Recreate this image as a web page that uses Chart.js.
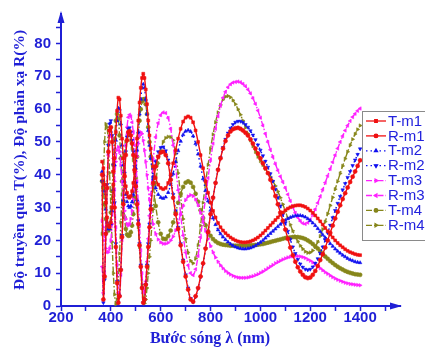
<!DOCTYPE html>
<html>
<head>
<meta charset="utf-8">
<script src="https://cdn.jsdelivr.net/npm/chart.js@4/dist/chart.umd.min.js"></script>
<style>
  html, body { margin: 0; padding: 0; background: #fff; }
</style>
</head>
<body>
<canvas id="myChart" width="425" height="349"></canvas>
<script>
// wavelength grid (nm): 5 nm steps in the short-wave region, 10 nm after
const wavelengths = [
    365, 370, 375, 380, 385, 390, 395, 400, 405, 410,
    415, 420, 425, 430, 435, 440, 445, 450, 455, 460,
    465, 470, 475, 480, 485, 490, 495, 500, 505, 510,
    515, 520, 525, 530, 535, 540, 545, 550, 555, 560,
    570, 580, 590, 600, 610, 620, 630, 640, 650, 660,
    670, 680, 690, 700, 710, 720, 730, 740, 750, 760,
    770, 780, 790, 800, 810, 820, 830, 840, 850, 860,
    870, 880, 890, 900, 910, 920, 930, 940, 950, 960,
    970, 980, 990, 1000, 1010, 1020, 1030, 1040, 1050, 1060,
    1070, 1080, 1090, 1100, 1110, 1120, 1130, 1140, 1150, 1160,
    1170, 1180, 1190, 1200, 1210, 1220, 1230, 1240, 1250, 1260,
    1270, 1280, 1290, 1300, 1310, 1320, 1330, 1340, 1350, 1360,
    1370, 1380, 1390, 1400
];

const tM1 = [
    44, 42, 37, 31.5, 27, 24.5, 24, 25.5, 30, 37,
    45, 53, 59.5, 63.5, 63, 58, 51, 45, 40, 36.5,
    34.5, 33.3, 33, 33.5, 35, 37.5, 41, 45.5, 51, 56.5,
    62, 66.5, 69.5, 70.8, 69.5, 66, 61.5, 56.5, 52, 48,
    42.5, 39, 37, 36, 35.6, 36, 37.5, 40, 43.5, 47.5,
    51, 54, 56.2, 57.4, 57.8, 57.4, 56, 53.5, 50, 46,
    42, 38, 34.5, 31.5, 29, 27, 25.3, 24, 23, 22.2,
    21.5, 20.9, 20.4, 20, 19.7, 19.5, 19.4, 19.4, 19.5, 19.7,
    20, 20.4, 20.9, 21.5, 22.2, 23, 23.8, 24.6, 25.4, 26.2,
    27, 27.8, 28.5, 29.2, 29.7, 30.1, 30.4, 30.6, 30.7, 30.7,
    30.5, 30.2, 29.7, 29.1, 28.4, 27.6, 26.7, 25.8, 24.8, 23.8,
    22.8, 21.8, 20.9, 20, 19.2, 18.5, 17.9, 17.3, 16.8, 16.4,
    16.1, 15.8, 15.6, 15.5
];

const rM1 = [
    40, 2, 9, 22, 36, 47, 53.5, 54.5, 50, 41,
    30, 18, 7, 1, 3, 11, 21, 31, 39.5, 46,
    50.5, 53, 53.3, 52, 49.5, 46, 41.5, 36.5, 31, 25,
    18.5, 12, 5.5, 1, 2, 6.5, 12, 18, 24, 29.5,
    37.5, 42.5, 45.5, 46.8, 47, 46, 43.5, 38.5, 33, 28,
    23.5, 18.5, 13.5, 9, 5, 2, 1.3, 3, 5.5, 9,
    13, 17.5, 22.5, 28, 33, 37.5, 41.5, 45, 48, 50.3,
    52, 53.2, 53.9, 54.2, 54.3, 54, 53.5, 52.8, 52, 50.8,
    49.5, 48, 46.5, 45, 43.5, 42, 40.5, 38.5, 36, 33.5,
    31, 28.5, 26, 23.3, 20.5, 17.8, 15.5, 13.5, 11.8, 10.5,
    9.5, 8.8, 8.5, 8.7, 9.5, 10.7, 12.2, 14, 15.8, 17.8,
    20, 22.3, 24.5, 26.7, 28.7, 30.7, 32.6, 34.4, 36.1, 37.8,
    39.4, 41, 42.7, 44.4
];

const tM2 = [
    41, 40, 35, 29.5, 25.5, 23.5, 23.5, 25, 29, 35.5,
    43, 50.5, 56.5, 60.3, 60, 55.5, 49, 43, 38, 34,
    31.8, 30.5, 30, 30.4, 31.7, 34, 37.5, 42, 47.5, 53,
    58.5, 63, 66.5, 67.6, 66.5, 63, 58.5, 53.5, 49, 45,
    39.5, 36, 34, 33.1, 32.8, 33.2, 34.6, 37, 40.3, 44,
    47.3, 50.2, 52.2, 53.3, 53.6, 53.2, 51.8, 49.5, 46.3, 42.6,
    38.8, 35.2, 32, 29.2, 26.8, 24.8, 23.2, 22, 21, 20.2,
    19.5, 18.9, 18.4, 18, 17.7, 17.5, 17.4, 17.4, 17.5, 17.7,
    18, 18.4, 18.9, 19.4, 20, 20.7, 21.4, 22.1, 22.8, 23.5,
    24.2, 24.9, 25.5, 26.1, 26.6, 27, 27.3, 27.5, 27.6, 27.6,
    27.4, 27.1, 26.6, 26, 25.3, 24.5, 23.6, 22.7, 21.7, 20.8,
    19.9, 19, 18.2, 17.4, 16.7, 16.1, 15.5, 15, 14.5, 14.1,
    13.8, 13.5, 13.3, 13.2
];

const rM2 = [
    38, 1, 8, 22, 37, 49, 55.5, 56.5, 52, 43,
    31.5, 19, 7.5, 1, 3, 11, 21.5, 32, 40.5, 47,
    51.5, 54, 54.3, 53, 50.5, 47, 42.5, 37.5, 32, 26,
    19, 12.5, 5.5, 1, 2, 6.5, 12.5, 19, 25, 30.5,
    38.5, 44, 47, 48.3, 48.5, 47.3, 44.5, 39.5, 34, 29,
    24, 19, 14, 9.5, 5.5, 2.3, 1.2, 2.8, 5.3, 8.8,
    12.8, 17.5, 22.5, 28, 33, 37.5, 41.5, 45.2, 48.3, 50.8,
    52.7, 54.2, 55.3, 56, 56.3, 56.3, 55.9, 55.3, 54.5, 53.4,
    52.1, 50.7, 49.1, 47.5, 45.8, 44.1, 42.3, 40.3, 38, 35.6,
    33.1, 30.5, 27.9, 25.3, 22.8, 20.3, 18, 16, 14.2, 12.8,
    11.8, 11.2, 11, 11.2, 11.9, 13, 14.4, 16.1, 18, 20.1,
    22.3, 24.6, 26.9, 29.1, 31.3, 33.4, 35.4, 37.3, 39.2, 41,
    42.8, 44.5, 46.2, 47.9
];

const tM3 = [
    26, 24, 20, 17.5, 16.5, 16.4, 17.5, 20, 25, 31,
    38, 44, 47.5, 48.5, 47, 43, 38, 33, 29, 26.5,
    25, 24.5, 25, 26.5, 29, 32.5, 36.5, 41, 45.5, 49.5,
    52, 53, 52.5, 50.5, 47.5, 44, 40, 36, 32.5, 29.5,
    25, 22, 20.3, 19.4, 19, 19, 19.3, 20, 21.2, 23,
    25.3, 28, 30.5, 32.3, 33.4, 33.8, 33.5, 32.5, 30.8, 28.5,
    25.8, 23, 20.5, 18.3, 16.4, 14.8, 13.5, 12.4, 11.5, 10.7,
    10.1, 9.6, 9.2, 8.9, 8.7, 8.6, 8.6, 8.6, 8.7, 8.9,
    9.1, 9.4, 9.7, 10.1, 10.5, 11, 11.5, 12, 12.5, 13,
    13.4, 13.8, 14.2, 14.5, 14.8, 15, 15.1, 15.2, 15.2, 15.1,
    14.9, 14.6, 14.2, 13.8, 13.3, 12.7, 12.1, 11.5, 10.9, 10.3,
    9.8, 9.3, 8.8, 8.4, 8, 7.7, 7.4, 7.1, 6.9, 6.7,
    6.6, 6.5, 6.4, 6.3
];

const rM3 = [
    12, 4, 10, 23, 36, 46, 52, 54, 51.5, 45,
    35.5, 24, 12.5, 4, 3, 9.5, 20, 31, 41, 49,
    54.5, 57.5, 58.3, 57.8, 56, 53, 49, 44, 38, 31.5,
    24.5, 17, 10, 5, 4, 7.5, 13.5, 20.5, 27.5, 34,
    44.5, 51.5, 55.8, 58.2, 59, 58.8, 57.3, 54, 49, 42.5,
    35.3, 28, 21.5, 16.3, 12.4, 10, 9.4, 11.2, 15.3, 21,
    27, 33, 39, 44.5, 49.5, 54, 57.8, 61, 63.5, 65.3,
    66.7, 67.6, 68.1, 68.3, 68.4, 68.2, 67.7, 67, 66, 64.8,
    63.3, 61.6, 59.6, 57.4, 55, 52.5, 50, 47.6, 45.4, 43.3,
    41.3, 39.5, 37.8, 36, 34, 32, 30.1, 28.4, 27, 25.9,
    25.2, 25, 25.4, 26.4, 27.8, 29.5, 31.4, 33.4, 35.5, 37.6,
    39.7, 41.8, 43.9, 46, 48, 50, 51.8, 53.5, 55, 56.4,
    57.6, 58.6, 59.5, 60.2
];

const tM4 = [
    38, 36, 31, 26.5, 23.8, 23, 24.5, 28.5, 35, 43,
    51, 56.5, 58.5, 57, 52, 45, 38, 32, 27, 23.5,
    21.8, 21.4, 21.5, 22.5, 24.5, 28, 33, 39, 45.5, 51.5,
    56.5, 60, 62.3, 63, 63, 61.5, 58.5, 54.5, 50, 45.5,
    37, 30.5, 25.5, 22, 20.5, 20.4, 21.3, 23, 25.5, 28.5,
    31.5, 34.2, 36.3, 37.6, 38, 37.6, 36.3, 34.2, 31.8, 29.2,
    26.8, 24.6, 22.8, 21.4, 20.4, 19.7, 19.2, 18.9, 18.7, 18.6,
    18.5, 18.4, 18.4, 18.4, 18.4, 18.4, 18.4, 18.4, 18.4, 18.5,
    18.5, 18.6, 18.7, 18.8, 18.9, 19.1, 19.3, 19.5, 19.7, 19.9,
    20.1, 20.3, 20.5, 20.7, 20.8, 20.9, 21, 21, 21, 20.9,
    20.7, 20.4, 20, 19.5, 18.9, 18.2, 17.5, 16.7, 15.9, 15.1,
    14.4, 13.7, 13.1, 12.5, 12, 11.5, 11.1, 10.7, 10.4, 10.1,
    9.9, 9.7, 9.6, 9.5
];

const rM4 = [
    22, 38, 50, 55.5, 54.5, 49, 40.5, 30, 19.5, 10,
    3.5, 0.5, 2, 7.5, 16, 25.5, 34, 41, 46.5, 50,
    52, 52.5, 52, 50.5, 48, 44.5, 40.5, 35.5, 30, 24,
    18, 12, 6.5, 2.5, 0.8, 2, 5.5, 10, 15, 20,
    29.5, 37.5, 43.5, 47.5, 50, 51.2, 51.6, 51.5, 50.5, 46.5,
    40.5, 33.5, 26.5, 20.5, 16.3, 13.8, 13, 14.5, 18.5, 24.5,
    31.5, 37.5, 43, 48, 52.3, 56, 59, 61.3, 62.9, 63.8,
    64, 63.6, 62.7, 61.5, 60, 58.3, 56.5, 54.5, 52.5, 50.5,
    48.7, 47, 45.5, 44.2, 43, 41.8, 40.6, 39.4, 38.1, 36.6,
    34.9, 33, 31, 28.9, 26.8, 24.8, 22.9, 21.2, 19.7, 18.4,
    17.4, 16.6, 16.2, 16.3, 16.9, 18, 19.5, 21.3, 23.4, 25.7,
    28.1, 30.6, 33.1, 35.6, 38, 40.4, 42.7, 44.9, 47, 49,
    50.8, 52.4, 53.8, 55
];

const seriesNames = ['T-m1', 'R-m1', 'T-m2', 'R-m2', 'T-m3', 'R-m3', 'T-m4', 'R-m4'];
const seriesValues = [tM1, rM1, tM2, rM2, tM3, rM3, tM4, rM4];

const xTickValues = [200, 300, 400, 500, 600, 700, 800, 900, 1000, 1100, 1200, 1300, 1400, 1500];
const yTickValues = [0, 5, 10, 15, 20, 25, 30, 35, 40, 45, 50, 55, 60, 65, 70, 75, 80, 85];

const AXIS_BLUE = '#1f1fd6';
const RED = '#f01010';
const BLUE = '#1010f0';
const MAGENTA = '#ff20ff';
const OLIVE = '#86861a';

const styles = [
    { color: RED, point: 'rect', rot: 0, dash: [] },
    { color: RED, point: 'circle', rot: 0, dash: [] },
    { color: BLUE, point: 'triangle', rot: 0, dash: [1.5, 3] },
    { color: BLUE, point: 'triangle', rot: 180, dash: [1.5, 3] },
    { color: MAGENTA, point: 'triangle', rot: 90, dash: [6, 2, 1.5, 2] },
    { color: MAGENTA, point: 'triangle', rot: -90, dash: [6, 2, 1.5, 2] },
    { color: OLIVE, point: 'circle', rot: 0, dash: [6, 2, 1.5, 2] },
    { color: OLIVE, point: 'triangle', rot: 90, dash: [6, 2, 1.5, 2] }
];

const datasets = seriesNames.map((name, i) => ({
    label: name,
    data: wavelengths.map((w, j) => ({ x: w, y: seriesValues[i][j] })),
    borderColor: styles[i].color,
    backgroundColor: styles[i].color,
    borderWidth: 1.4,
    borderDash: styles[i].dash,
    pointStyle: styles[i].point,
    rotation: styles[i].rot,
    pointRadius: 2,
    pointBorderWidth: 0.6,
    tension: 0.3,
    clip: false
}));

// axis arrows, axis titles and the boxed legend
const decorations = {
    id: 'decorations',
    afterDraw(chart) {
        const c = chart.ctx;
        const a = chart.chartArea;
        c.save();
        c.fillStyle = AXIS_BLUE;
        // arrow on y axis
        c.beginPath();
        c.moveTo(a.left, a.top - 3);
        c.lineTo(a.left - 3.5, a.top + 9);
        c.lineTo(a.left + 3.5, a.top + 9);
        c.closePath();
        c.fill();
        // arrow on x axis
        c.beginPath();
        c.moveTo(a.right + 2, a.bottom);
        c.lineTo(a.right - 10, a.bottom - 3.5);
        c.lineTo(a.right - 10, a.bottom + 3.5);
        c.closePath();
        c.fill();

        // titles
        c.fillStyle = AXIS_BLUE;
        c.font = 'bold 16px "Liberation Serif", "Times New Roman", serif';
        c.textAlign = 'center';
        c.textBaseline = 'middle';
        c.fillText('Bước sóng λ (nm)', 210, 339);
        c.font = 'bold 15.5px "Liberation Serif", "Times New Roman", serif';
        c.translate(20, 160);
        c.rotate(-Math.PI / 2);
        c.fillText('Độ truyền qua T(%), Độ phản xạ R(%)', 0, 0);
        c.restore();

        // legend
        c.save();
        const lx = 362, ly = 111, lw = 70, lh = 129;
        c.fillStyle = '#fff';
        c.fillRect(lx, ly, lw, lh);
        c.strokeStyle = '#8a8a8a';
        c.lineWidth = 1;
        c.strokeRect(lx + 0.5, ly + 0.5, lw, lh);
        chart.data.datasets.forEach((ds, i) => {
            const y = ly + 10 + i * 14.9;
            c.strokeStyle = ds.borderColor;
            c.lineWidth = 1.3;
            c.setLineDash(ds.borderDash);
            c.beginPath();
            c.moveTo(lx + 4, y);
            c.lineTo(lx + 24, y);
            c.stroke();
            c.setLineDash([]);
            Chart.helpers.drawPoint(c, {
                pointStyle: ds.pointStyle,
                rotation: ds.rotation,
                radius: 1.8,
                borderWidth: 0.6
            }, lx + 14, y);
            c.fillStyle = ds.borderColor;
            c.fill();
            c.fillStyle = '#2222dd';
            c.font = '15px "Liberation Sans", Arial, sans-serif';
            c.textAlign = 'left';
            c.textBaseline = 'middle';
            c.fillText(ds.label, lx + 26, y + 0.5);
        });
        c.restore();
    }
};

const ctx = document.getElementById('myChart');

const spectraChart = new Chart(ctx, {
    type: 'line',
    data: { datasets: datasets },
    options: {
        responsive: false,
        animation: false,
        layout: { padding: { top: 10, right: 25, left: 0, bottom: 0 } },
        plugins: {
            legend: { display: false },
            tooltip: { enabled: false }
        },
        scales: {
            x: {
                type: 'linear',
                min: 200,
                max: 1560,
                afterBuildTicks: (scale) => {
                    scale.ticks = xTickValues.map(v => ({ value: v }));
                },
                afterFit: (scale) => { scale.height = 43; },
                ticks: {
                    autoSkip: false,
                    maxRotation: 0,
                    padding: -2,
                    color: AXIS_BLUE,
                    font: { family: '"Liberation Sans", Arial, sans-serif', size: 15, weight: 'bold' },
                    callback: (v) => (v % 200 === 0 && v <= 1400) ? v : ''
                },
                grid: {
                    drawOnChartArea: false,
                    drawTicks: true,
                    tickLength: 5,
                    tickColor: AXIS_BLUE,
                    tickWidth: 1.5
                },
                border: { color: AXIS_BLUE, width: 2 }
            },
            y: {
                min: 0,
                max: 89,
                afterBuildTicks: (scale) => {
                    scale.ticks = yTickValues.map(v => ({ value: v }));
                },
                afterFit: (scale) => { scale.width = 61; },
                ticks: {
                    autoSkip: false,
                    padding: 5,
                    color: AXIS_BLUE,
                    font: { family: '"Liberation Sans", Arial, sans-serif', size: 15, weight: 'bold' },
                    callback: (v) => (v % 10 === 0 && v <= 80) ? v : ''
                },
                grid: {
                    drawOnChartArea: false,
                    drawTicks: true,
                    tickLength: 5,
                    tickColor: AXIS_BLUE,
                    tickWidth: 1.5
                },
                border: { color: AXIS_BLUE, width: 2 }
            }
        }
    },
    plugins: [decorations]
});
</script>
</body>
</html>
